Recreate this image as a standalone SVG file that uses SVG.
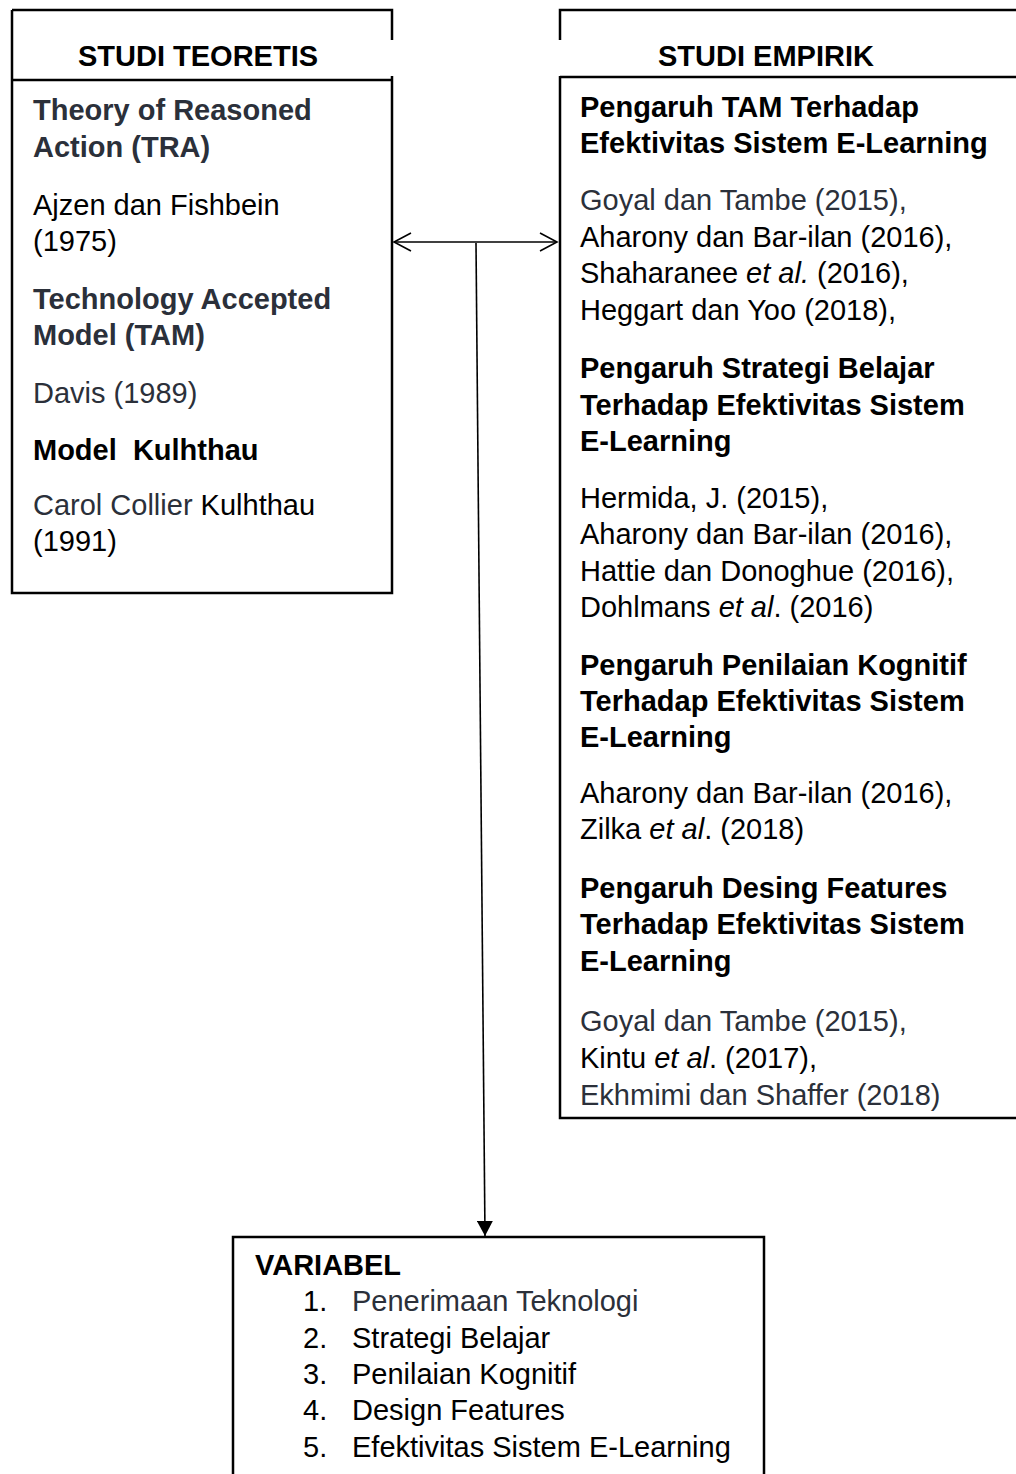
<svg xmlns="http://www.w3.org/2000/svg" width="1016" height="1474" viewBox="0 0 1016 1474">
<defs>
<style>
text{font-family:"Liberation Sans",Arial,sans-serif;font-size:29px;fill:#000}
.b{font-weight:bold}
.g{fill:#2b303a}
.i{font-style:italic}
.box{fill:none;stroke:#000;stroke-width:2.5}
.con{fill:none;stroke:#000;stroke-width:1.6}
</style>
<marker id="open" viewBox="0 0 20 20" refX="18" refY="10" markerWidth="20" markerHeight="20" markerUnits="userSpaceOnUse" orient="auto-start-reverse">
<path d="M1,1 L18,10 L1,19" fill="none" stroke="#000" stroke-width="1.6"/>
</marker>
<marker id="solid" viewBox="0 0 16 16" refX="15" refY="8" markerWidth="16" markerHeight="16" markerUnits="userSpaceOnUse" orient="auto">
<path d="M0,0 L15,8 L0,16 Z" fill="#000"/>
</marker>
</defs>
<rect width="1016" height="1474" fill="#fff"/>

<g id="studi-teoretis">
<path class="box" d="M12,10 H392 V40 M12,10 V593 H392 V76 M12,80 H392"/>
<text class="b" x="78" y="66">STUDI TEORETIS</text>
<text class="b g" x="33" y="120">Theory of Reasoned</text>
<text class="b g" x="33" y="157">Action (TRA)</text>
<text x="33" y="215">Ajzen dan Fishbein</text>
<text x="33" y="251">(1975)</text>
<text class="b g" x="33" y="309">Technology Accepted</text>
<text class="b g" x="33" y="345">Model (TAM)</text>
<text class="g" x="33" y="403">Davis (1989)</text>
<text class="b" x="33" y="460" xml:space="preserve">Model  Kulhthau</text>
<text x="33" y="515"><tspan class="g">Carol Collier</tspan> Kulhthau</text>
<text x="33" y="551">(1991)</text>
</g>

<g id="studi-empirik">
<path class="box" d="M560,40 V10 H1016 M560,76 V1118 H1016 M560,77 H1016"/>
<text class="b" x="658" y="66">STUDI EMPIRIK</text>
<text class="b" x="580" y="117">Pengaruh TAM Terhadap</text>
<text class="b" x="580" y="153">Efektivitas Sistem E-Learning</text>
<text class="g" x="580" y="210">Goyal dan Tambe (2015),</text>
<text x="580" y="247">Aharony dan Bar-ilan (2016),</text>
<text x="580" y="283">Shaharanee <tspan class="i">et al.</tspan> (2016),</text>
<text x="580" y="320">Heggart dan Yoo (2018),</text>
<text class="b" x="580" y="378">Pengaruh Strategi Belajar</text>
<text class="b" x="580" y="415">Terhadap Efektivitas Sistem</text>
<text class="b" x="580" y="451">E-Learning</text>
<text x="580" y="508">Hermida, J. (2015),</text>
<text x="580" y="544">Aharony dan Bar-ilan (2016),</text>
<text x="580" y="581">Hattie dan Donoghue (2016),</text>
<text x="580" y="617">Dohlmans <tspan class="i">et al</tspan>. (2016)</text>
<text class="b" x="580" y="675">Pengaruh Penilaian Kognitif</text>
<text class="b" x="580" y="711">Terhadap Efektivitas Sistem</text>
<text class="b" x="580" y="747">E-Learning</text>
<text x="580" y="803">Aharony dan Bar-ilan (2016),</text>
<text x="580" y="839">Zilka <tspan class="i">et al</tspan>. (2018)</text>
<text class="b" x="580" y="898">Pengaruh Desing Features</text>
<text class="b" x="580" y="934">Terhadap Efektivitas Sistem</text>
<text class="b" x="580" y="971">E-Learning</text>
<text class="g" x="580" y="1031">Goyal dan Tambe (2015),</text>
<text x="580" y="1068">Kintu <tspan class="i">et al</tspan>. (2017),</text>
<text class="g" x="580" y="1105">Ekhmimi dan Shaffer (2018)</text>
</g>

<g id="variabel">
<path class="box" d="M233,1474 V1237 H764 V1474"/>
<text class="b" x="255" y="1275">VARIABEL</text>
<text x="303" y="1311">1.</text><text class="g" x="352" y="1311">Penerimaan Teknologi</text>
<text x="303" y="1348">2.</text><text x="352" y="1348">Strategi Belajar</text>
<text x="303" y="1384">3.</text><text x="352" y="1384">Penilaian Kognitif</text>
<text x="303" y="1420">4.</text><text x="352" y="1420">Design Features</text>
<text x="303" y="1457">5.</text><text x="352" y="1457">Efektivitas Sistem E-Learning</text>
</g>

<g id="connectors">
<line class="con" x1="394" y1="242" x2="557" y2="242" marker-start="url(#open)" marker-end="url(#open)"/>
<line class="con" x1="476" y1="243" x2="485" y2="1236" marker-end="url(#solid)"/>
</g>
</svg>
